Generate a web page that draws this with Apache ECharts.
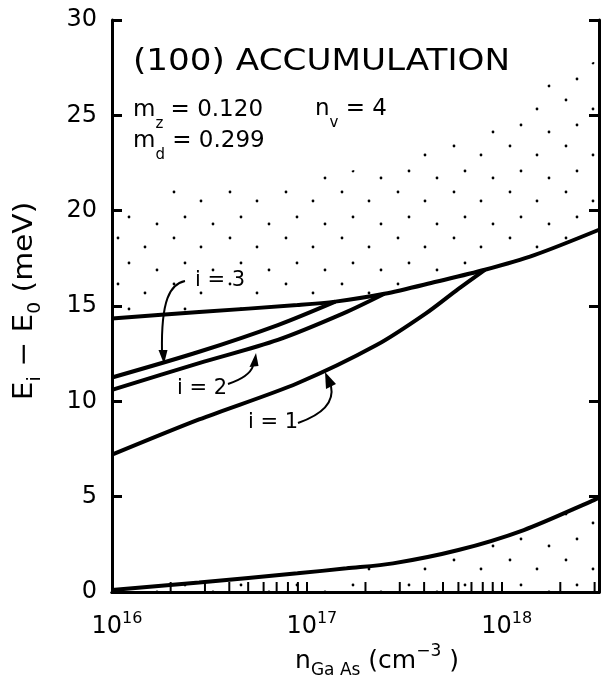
<!DOCTYPE html>
<html><head><meta charset="utf-8">
<script src="https://cdn.jsdelivr.net/npm/echarts@6/dist/echarts.min.js"></script>
<style>html,body{margin:0;padding:0;background:#fff}#c{width:602px;height:680px}</style>
</head><body><div id="c"></div>
<script>
// ---- data ----
const xLabelExponents = ['16', '17', '18'];
const yTickStep = 5;
const curveUpper = [[1e16,14.35],[2.8e16,14.68],[8.95e16,15.05],[1.4e17,15.23],[2.5e17,15.64],[4.6e17,16.27],[8.2e17,16.9],[1.47e18,17.67],[3.16e18,19.0]];
const curveI3 = [[1e16,11.25],[2.8e16,12.6],[7.1e16,14.0],[1.4e17,15.23]];
const curveI2 = [[1e16,10.6],[2.8e16,12.0],[7.1e16,13.22],[1.54e17,14.61],[2.5e17,15.64]];
const curveI1 = [[1e16,7.2],[2.8e16,9.05],[8.95e16,10.95],[2.28e17,12.95],[4.07e17,14.6],[6e17,15.9],[8.2e17,16.9]];
const curveBottom = [[1e16,0.1],[2.8e16,0.5],[8.95e16,0.98],[1.6e17,1.24],[2.77e17,1.5],[6e17,2.2],[1.3e18,3.25],[2.86e18,4.74],[3.16e18,4.95]];
const dottedUpperEdge = [[1e16,19.2],[1.85e16,21.0],[3.1e16,21.5],[6.3e16,21.4],[1.43e17,21.9],[3.4e17,22.9],[5.8e17,23.7],[1.16e18,25.0],[1.4e18,26.0],[2.2e18,27.3],[3.16e18,27.9]];
const minorTickValues = [2e16,3e16,4e16,5e16,6e16,7e16,8e16,9e16,2e17,3e17,4e17,5e17,6e17,7e17,8e17,9e17,2e18,3e18];

const FF = '"DejaVu Sans", sans-serif';

// dot texture
const tile = document.createElement('canvas');
tile.width = 56; tile.height = 46;
const tctx = tile.getContext('2d');
tctx.fillStyle = '#000';
[[6,8],[33,17],[17,33],[45,40]].forEach(function (p) {
  tctx.beginPath(); tctx.arc(p[0], p[1], 1.4, 0, Math.PI * 2); tctx.fill();
});
const dotFill = { image: tile, repeat: 'repeat' };

const chart = echarts.init(document.getElementById('c'), null, { renderer: 'canvas' });

function lineSeries(name, data) {
  return { name: name, type: 'line', data: data, symbol: 'none', smooth: 0.3, z: 5,
    lineStyle: { color: '#000', width: 4 }, silent: true };
}
function subRich(base, sub, lh) {
  return {
    b: { fontFamily: FF, fontSize: base, fill: '#000', color: '#000', lineHeight: lh, verticalAlign: 'middle' },
    s: { fontFamily: FF, fontSize: sub, fill: '#000', color: '#000', lineHeight: sub, verticalAlign: 'bottom' }
  };
}

const option = {
  backgroundColor: '#fff',
  animation: false,
  grid: { left: 112, top: 20, width: 494, height: 572, containLabel: false },
  xAxis: [{
    type: 'log', logBase: 10, min: 1e16, max: 3.16e18, position: 'bottom',
    axisLine: { show: true, lineStyle: { color: '#000', width: 3 } },
    axisTick: { show: true, inside: true, length: 10, lineStyle: { color: '#000', width: 2 } },
    splitLine: { show: false },
    axisLabel: {
      margin: 19, padding: [0, 0, 0, 10],
      formatter: function (v) {
        const e = Math.log10(v); const r = Math.round(e);
        if (Math.abs(e - r) > 1e-6) return '';
        const idx = xLabelExponents.indexOf(String(r));
        if (idx < 0) return '';
        return '{b|10}{s|' + xLabelExponents[idx] + '}';
      },
      rich: {
        b: { fontFamily: FF, fontSize: 24, color: '#000', lineHeight: 32, verticalAlign: 'middle' },
        s: { fontFamily: FF, fontSize: 16, color: '#000', lineHeight: 18, verticalAlign: 'top' }
      }
    }
  }, {
    type: 'log', logBase: 10, min: 1e16, max: 3.16e18, position: 'top',
    axisLine: { show: true, lineStyle: { color: '#000', width: 3 } },
    axisTick: { show: false }, axisLabel: { show: false }, splitLine: { show: false }
  }],
  yAxis: [{
    type: 'value', min: 0, max: 30, interval: yTickStep, position: 'left',
    axisLine: { show: true, lineStyle: { color: '#000', width: 3 } },
    axisTick: { show: true, inside: true, length: 10, lineStyle: { color: '#000', width: 3 } },
    splitLine: { show: false },
    axisLabel: { margin: 15, fontFamily: FF, fontSize: 24, color: '#000' }
  }, {
    type: 'value', min: 0, max: 30, interval: yTickStep, position: 'right',
    axisLine: { show: true, lineStyle: { color: '#000', width: 3 } },
    axisTick: { show: true, inside: true, length: 10, lineStyle: { color: '#000', width: 3 } },
    splitLine: { show: false }, axisLabel: { show: false }
  }],
  series: [
    {
      name: 'dotsUpper', type: 'custom', z: 1, clip: true, silent: true,
      data: [[1e16, 15]],
      renderItem: function (params, api) {
        const pts = curveUpper.map(function (p) { return api.coord(p); })
          .concat(dottedUpperEdge.slice().reverse().map(function (p) { return api.coord(p); }));
        return { type: 'polygon', shape: { points: pts }, style: { fill: dotFill } };
      }
    },
    {
      name: 'dotsLower', type: 'custom', z: 1, clip: true, silent: true,
      data: [[1e16, 0]],
      renderItem: function (params, api) {
        const first = curveBottom[0][0], last = curveBottom[curveBottom.length - 1][0];
        const pts = curveBottom.map(function (p) { return api.coord(p); })
          .concat([api.coord([last, 0]), api.coord([first, 0])]);
        return { type: 'polygon', shape: { points: pts }, style: { fill: dotFill } };
      }
    },
    {
      name: 'minorTicks', type: 'custom', z: 4, silent: true,
      data: minorTickValues.map(function (v) { return [v, 0]; }),
      renderItem: function (params, api) {
        const p = api.coord([api.value(0), 0]);
        return { type: 'line', shape: { x1: p[0], y1: p[1], x2: p[0], y2: p[1] - 10 },
          style: { stroke: '#000', lineWidth: 2 } };
      }
    },
    lineSeries('upper', curveUpper),
    lineSeries('i=3', curveI3),
    lineSeries('i=2', curveI2),
    lineSeries('i=1', curveI1),
    lineSeries('bottom', curveBottom)
  ],
  graphic: [
    { type: 'text', x: 133, y: 62, scaleX: 1.14, z: 10,
      style: { text: '(100) ACCUMULATION', fontFamily: FF, fontSize: 30, fill: '#000', align: 'left', verticalAlign: 'middle' } },
    { type: 'text', x: 133, y: 110, z: 10,
      style: { text: '{b|m}{s|z}{b| = 0.120}', align: 'left', verticalAlign: 'middle', rich: subRich(23, 15, 44) } },
    { type: 'text', x: 133, y: 141, z: 10,
      style: { text: '{b|m}{s|d}{b| = 0.299}', align: 'left', verticalAlign: 'middle', rich: subRich(23, 15, 44) } },
    { type: 'text', x: 315, y: 109, z: 10,
      style: { text: '{b|n}{s|v}{b| = 4}', align: 'left', verticalAlign: 'middle', rich: subRich(23, 15, 44) } },
    // curve labels
    { type: 'text', x: 195, y: 281, z: 10, style: { text: 'i = 3', fontFamily: FF, fontSize: 21, fill: '#000', verticalAlign: 'middle' } },
    { type: 'text', x: 177, y: 389, z: 10, style: { text: 'i = 2', fontFamily: FF, fontSize: 21, fill: '#000', verticalAlign: 'middle' } },
    { type: 'text', x: 248, y: 423, z: 10, style: { text: 'i = 1', fontFamily: FF, fontSize: 21, fill: '#000', verticalAlign: 'middle' } },
    // arrows
    { type: 'bezierCurve', z: 10, shape: { x1: 185, y1: 281, cpx1: 170, cpy1: 284, cpx2: 161, cpy2: 300, x2: 162, y2: 352 }, style: { stroke: '#000', lineWidth: 2, fill: null } },
    { type: 'polygon', z: 10, shape: { points: [[164, 364], [158.5, 350], [167.5, 350]] }, style: { fill: '#000' } },
    { type: 'bezierCurve', z: 10, shape: { x1: 228, y1: 384, cpx1: 240, cpy1: 380, cpx2: 250, cpy2: 375, x2: 253, y2: 366 }, style: { stroke: '#000', lineWidth: 2, fill: null } },
    { type: 'polygon', z: 10, shape: { points: [[256, 353], [249.5, 367], [258.5, 366]] }, style: { fill: '#000' } },
    { type: 'bezierCurve', z: 10, shape: { x1: 298, y1: 423, cpx1: 318, cpy1: 416, cpx2: 335, cpy2: 405, x2: 331, y2: 386 }, style: { stroke: '#000', lineWidth: 2, fill: null } },
    { type: 'polygon', z: 10, shape: { points: [[325, 372], [326, 389], [336, 384]] }, style: { fill: '#000' } },
    // axis names
    { type: 'text', x: 25, y: 301, rotation: Math.PI / 2, scaleX: 1.1, z: 10,
      style: { text: '{b|E}{s|i}{b| − E}{s|0}{b| (meV)}', align: 'center', verticalAlign: 'middle', rich: subRich(27, 17, 39) } },
    { type: 'text', x: 377, y: 661, z: 10,
      style: { text: '{b|n}{s|Ga As}{b| (cm}{p|−3}{b| )}', align: 'center', verticalAlign: 'middle',
        rich: { b: { fontFamily: FF, fontSize: 25, fill: '#000', lineHeight: 36, verticalAlign: 'middle' },
                s: { fontFamily: FF, fontSize: 17, fill: '#000', lineHeight: 16, verticalAlign: 'bottom' },
                p: { fontFamily: FF, fontSize: 17, fill: '#000', lineHeight: 16, verticalAlign: 'top' } } } }
  ]
};
chart.setOption(option);
</script>
</body></html>
